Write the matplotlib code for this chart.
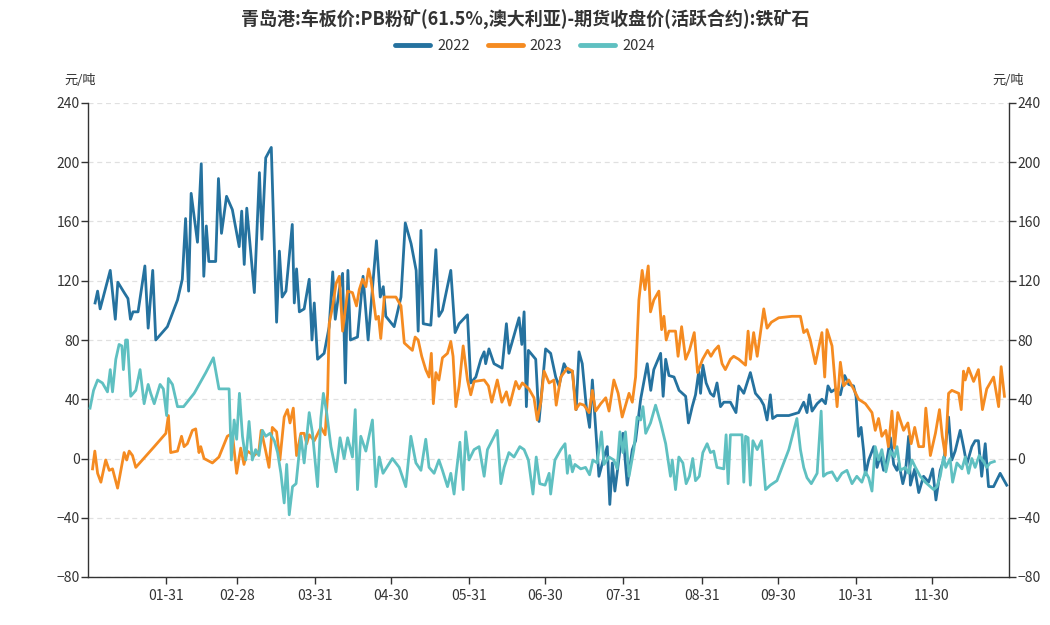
import numpy as np
import matplotlib
matplotlib.use("Agg")
import matplotlib.pyplot as plt
from matplotlib.lines import Line2D

plt.rcParams['font.family'] = ['Noto Sans CJK SC', 'DejaVu Sans']

# day of year (0 = Jan 1) and spread value, yuan/ton
days_2022 = [2, 3, 4, 8, 10, 11, 13.5, 15, 16, 17, 19, 21.7, 23, 24.8, 26, 30.6, 34.6, 36.5, 37.8, 39,
             40, 42.5, 44, 45, 46, 47, 49.7, 50.8, 52, 54, 56.3, 59, 60, 61, 62, 65, 67, 68, 69.5, 71.7,
             73.8, 74.9, 76, 77.5, 80, 80.8, 81.7, 82.8, 84.7, 86.7, 87.8, 88.7, 90, 92.6, 94.6, 96, 97,
             98.6, 99.9, 101, 102, 103, 105.8, 108, 110, 113.3, 114.8, 116, 117, 120.3, 123, 124.7, 127,
             129, 129.8, 130.9, 131.8, 134.8, 136.8, 138, 139.4, 142.7, 144.4, 146, 149.3, 150.6, 152.6,
             154.6, 155.9, 156.5, 157.8, 159.8, 163, 164.7, 165.7, 169.7, 170.8, 171.7, 172.6, 173.4,
             176.3, 177.6, 180.2, 182.2, 184.2, 185.5, 187.5, 189.2, 190.8, 192.3, 193.4, 194.7, 196.3,
             197.6, 198.7, 200, 201.3, 203.3, 204.6, 205.6, 206.6, 207.6, 209.5, 210.8, 212.5, 214.5,
             215.8, 217.8, 220.4, 221.8, 223, 225.7, 226.7, 227.7, 229, 231, 233, 235.6, 236.7, 238.2,
             239.5, 240.8, 241.5, 242.4, 243.7, 245.4, 246.7, 248, 249.4, 250.7, 253.3, 255.5, 256.6,
             258.6, 261.2, 263.2, 265.2, 266.5, 267.8, 269.1, 270, 271.7, 276.4, 280.3, 282.3, 283.6,
             284.5, 285.6, 287.6, 289.5, 290.9, 291.9, 293.2, 295, 296.8, 298.5, 300.1, 302, 303, 304,
             305, 306, 306.7, 308, 310, 311.3, 312.6, 313.9, 315.2, 316.6, 317.9, 319.2, 319.9, 321.5,
             322.5, 323.8, 324.5, 326.2, 327.8, 329.7, 331.7, 333.3, 334.6, 336.3, 337.9, 339.6, 340.9,
             342.2, 344.2, 345.5, 346.8, 348.8, 350.1, 351.4, 352.7, 354.1, 355.4, 357.4, 360, 362.6]
vals_2022 = [105, 113, 101, 127, 94, 119, 112, 108, 94, 99, 99, 130, 88, 127, 80, 89, 107, 121, 162, 113,
             179, 146, 199, 123, 157, 133, 133, 189, 152, 177, 168, 143, 167, 131, 169, 112, 193, 148, 203, 210,
             92, 140, 109, 113, 158, 105, 128, 99, 101, 121, 80, 105, 67, 71, 89, 126, 94,
             114, 125, 51, 127, 80, 82, 123, 80, 147, 109, 116, 96, 89, 109, 159, 145,
             127, 86, 154, 91, 90, 141, 96, 100, 127, 85, 91, 97, 51, 55,
             67, 72, 64, 74, 64, 61, 91, 71, 95, 77, 99, 35, 73,
             67, 25, 74, 71, 55, 49, 64, 58, 59, 33, 72, 64, 35,
             21, 53, 21, -12, 1, 8, -31, -3, -22, 4, 17, -18, 6,
             12, 40, 64, 46, 60, 71, 42, 67, 56, 55, 46, 42, 24, 35,
             43, 59, 44, 63, 51, 44, 42, 51, 35, 38, 38, 31, 49,
             44, 58, 44, 40, 36, 26, 43, 27, 29, 29, 31, 38, 31,
             43, 32, 37, 40, 37, 49, 45, 47, 43, 56, 50, 49, 42, 15,
             21, 5, -11, -1, 8, -6, 2, -8, -1, 14, -4, -8, -3, -17,
             -10, 15, -18, -7, -23, -12, -16, -7, -28, -8, 0, 28, -1,
             5, 19, 8, -4, 8, 12, 12, -12, 10, -19, -19, -10, -18]

days_2023 = [1, 1.9, 3, 4.3, 6.2, 7.6, 8.9, 10.9, 13.5, 14.5, 15.5, 16.8, 18.1, 25.4, 30, 31, 31.9, 34.6,
             36.2, 37.2, 38.5, 40.5, 41.8, 43.1, 43.8, 45.1, 48.4, 51, 54.3, 56.3, 58, 59.6, 60.9, 62.2,
             64.9, 66.8, 67.7, 69.5, 70.8, 72.1, 73.8, 75.1, 76.8, 78.1, 79.1, 80.4, 81.7, 83.4, 84.7,
             85.7, 86.7, 88.7, 91.3, 93, 94, 94.6, 96, 97.3, 98.6, 99.9, 101.9, 103.8, 105.4, 106.5,
             107.8, 109.1, 110.2, 111.1, 113.1, 114.1, 115, 116.4, 121, 123, 124.3, 125.6, 127.5, 128.6,
             129.8, 131.2, 132.8, 134.1, 135, 135.8, 136.8, 138, 139.4, 141.4, 142.7, 143.6, 144.7, 146,
             147.6, 149.3, 150.6, 151.9, 155.9, 157.6, 158.9, 161.1, 162.9, 164.7, 166, 168.4, 169.7,
             171, 173.6, 175.6, 176.9, 178.3, 179.6, 181.6, 183.5, 184.4, 186.2, 188.8, 190.8, 192.1,
             193.7, 195.4, 197.4, 198.7, 200, 202, 204, 205.3, 207.2, 208.9, 210.5, 213.2, 214.5, 215.8,
             217.1, 218.4, 219.5, 220.8, 221.7, 223, 225, 226.1, 227, 227.9, 229, 231.6, 232.6, 234,
             235.6, 237.1, 239, 240.3, 242.3, 244.3, 245.6, 247, 248.6, 250, 251.3, 253.3, 254.6, 256.6,
             259.3, 260.3, 261.2, 262.5, 263.9, 265.2, 266.5, 267.8, 269.5, 272.4, 277.7, 281, 282.3,
             283.6, 284.9, 286.9, 289.5, 290.6, 291.5, 293.5, 295.5, 296.8, 298.1, 300.1, 302, 304,
             306.7, 309.3, 310.6, 311.9, 313.2, 314.8, 315.8, 317.2, 318.2, 319.5, 321.8, 323.5, 324.8,
             326.2, 327.8, 329.7, 330.6, 332.4, 334.4, 336, 337.1, 338.3, 339.6, 340.9, 343.6, 344.6,
             345.5, 346.2, 347.5, 349.5, 351.4, 353, 354.7, 357.4, 359.4, 360.4, 361.7]
vals_2023 = [-7, 5, -10, -16, -1, -8, -7, -20, 4, -1, 5, 2, -6, 8, 17, 29, 4, 5,
             15, 8, 10, 19, 20, 4, 8, 0, -3, 1, 15, 17, -10, 7, -4, 5,
             2, 5, 19, 5, -6, 21, 18, -1, 28, 33, 24, 34, 2, 17, 17,
             10, 16, 12, 21, 16, 44, 91, 103, 118, 123, 86, 113, 112, 103, 114,
             121, 116, 128, 121, 94, 96, 81, 109, 109, 103, 78, 76, 73, 82,
             80, 69, 60, 55, 71, 37, 58, 53, 68, 71, 79, 69, 35, 49,
             76, 53, 43, 52, 53, 49, 38, 53, 38, 45, 36, 52, 47,
             51, 47, 41, 26, 38, 59, 51, 53, 36, 55, 61, 59, 33,
             37, 36, 31, 46, 32, 37, 41, 32, 53, 44, 28, 44, 38, 55,
             107, 127, 114, 130, 99, 107, 113, 87, 96, 80, 86, 86, 69, 89,
             67, 73, 85, 58, 67, 73, 69, 73, 76, 64, 60, 67, 69, 67,
             63, 86, 67, 85, 69, 85, 101, 88, 92, 95, 96, 96, 85,
             87, 80, 64, 85, 55, 87, 76, 35, 65, 49, 53, 47, 40,
             37, 31, 19, 27, 15, 19, 8, 32, 7, 31, 19, 24, 10,
             21, 8, 8, 34, 2, 17, 33, 15, 2, 44, 46, 44, 33,
             59, 53, 61, 52, 60, 33, 47, 55, 35, 62, 42]

days_2024 = [0, 1.4, 3, 4.9, 6.9, 8, 8.9, 10.2, 11.5, 12.6, 13.2, 14.1, 14.8, 16.1, 18.1, 19.8, 21.4, 23,
             24, 25.4, 27.7, 29, 30.3, 31, 32.6, 34.6, 37, 41.2, 45.8, 48.8, 51, 55, 55.9, 57, 58, 59.1,
             60.3, 61.6, 62.9, 64.2, 65.5, 66.8, 68.2, 69.5, 71.2, 72.9, 74.2, 75.5, 76.8, 77.8, 78.8,
             80.1, 81.5, 83.4, 84.7, 86.7, 88, 90, 91.3, 92.3, 93.6, 95.3, 97.3, 98.9, 100.5, 101.9,
             103.8, 104.9, 105.8, 107.1, 109.1, 111.7, 113.1, 114.4, 115.9, 119.6, 122.3, 124.9, 126.9,
             128.9, 130.9, 132.8, 134.1, 136.1, 138, 139.4, 141.4, 142.7, 144, 144.7, 146.3, 147.6,
             148.6, 149.9, 151.9, 153.9, 155.9, 157.2, 161.1, 162.5, 163.8, 165.7, 167.7, 170, 171.7,
             173.4, 175.2, 176.5, 177.9, 180, 181.6, 182.2, 183.9, 186.2, 187.9, 188.8, 189.7, 190.8,
             191.8, 194.1, 196, 197.6, 198.9, 200.6, 202.3, 203.3, 205.3, 207.2, 208.5, 209.6, 210.8,
             211.8, 213.2, 215.1, 216.4, 217.8, 218.7, 219.8, 221.7, 223.7, 225.7, 227.7, 229.6, 230.3,
             231.6, 232.9, 234.5, 235.8, 237.1, 238.4, 239.5, 241, 242.4, 244.1, 245.4, 246.7, 248,
             250.7, 251.6, 252.4, 253.3, 257.9, 258.6, 259.3, 260.3, 261.2, 262.2, 263.9, 265.6, 266.5,
             267.2, 269.1, 271.7, 276.4, 279.6, 281, 282.3, 283.6, 285.3, 287.6, 289.2, 290.1, 291.5,
             293.5, 295.5, 297.4, 299.4, 301.4, 303.3, 305.3, 306.7, 308, 309.3, 310.6, 311.9, 313.2,
             314.8, 316.6, 318.2, 319.2, 320.5, 322.5, 323.8, 325.1, 326.5, 328.4, 330.4, 332.4, 333.7,
             335, 336.3, 337.6, 338.5, 340.2, 341.2, 342.9, 344.9, 346.2, 347.5, 348.8, 350.1, 351.7,
             353.4, 354.7, 356, 357.7]
vals_2024 = [34, 46, 53, 51, 45, 60, 45, 67, 77, 76, 60, 80, 80, 42, 46, 60, 37, 50,
             44, 37, 50, 47, 29, 54, 50, 35, 35, 44, 58, 68, 47, 47, -1, 26, 13, 44,
             15, -1, 25, -1, 6, 2, 19, 15, 17, 12, 4, -10, -30, -4, -38,
             -19, -17, 15, -3, 31, 17, -19, 27, 44, 31, 8, -9, 14, 0, 14,
             1, 33, -21, 15, 5, 26, -19, 1, -10, 0, -6, -19, 15,
             -3, -8, 13, -6, -10, -1, -8, -19, -10, -24, -12, 11, -21,
             18, -1, 6, 8, -12, 6, 19, -17, -6, 4, 1, 8, 6,
             -1, -24, 1, -17, -18, -10, -24, -1, 6, 10, -10, 2, -9,
             -4, -7, -6, -11, -1, -3, 18, -4, 1, -1, -7, 18, 4,
             18, -12, 6, 28, 26, 35, 17, 24, 36, 24, 10, -12, -1,
             -21, 1, -3, -17, -12, 0, -15, -12, 4, 10, 4, 5, -6,
             -7, 16, -17, 16, 16, -16, 15, 14, -18, 12, 6, 12, -7,
             -21, -18, -15, 6, 27, 6, -6, -13, -17, -10, 32, -12, -10,
             -9, -15, -10, -8, -17, -12, -16, -9, -13, -22, 8, -1, 6,
             -9, 5, 1, 8, -8, -6, -10, -1, -6, -12, -16, -19, -21,
             -19, -12, 1, -6, 0, -16, -3, -7, 1, -10, 0, -6, 2,
             -2, -6, -3, -2]

tick_days = [30, 58, 89, 119, 150, 180, 211, 242, 272, 303, 333]
tick_labels = ['01-31', '02-28', '03-31', '04-30', '05-31', '06-30',
               '07-31', '08-31', '09-30', '10-31', '11-30']
y_ticks = [-80, -40, 0, 40, 80, 120, 160, 200, 240]

series = [('2022', days_2022, vals_2022, '#25729f'),
          ('2023', days_2023, vals_2023, '#f58b21'),
          ('2024', days_2024, vals_2024, '#5fc0c1')]

fig = plt.figure(figsize=(10.5, 6.25), dpi=100)
ax = fig.add_axes([88 / 1050, 48 / 625, 921 / 1050, 474 / 625])

for i, (name, d, v, c) in enumerate(series):
    ax.plot(d, v, color=c, lw=2.0, solid_joinstyle='round', zorder=3 + i)

ax.set_xlim(-0.8, 363.5)
ax.set_ylim(-80, 240)
ax.set_yticks(y_ticks)
ax.set_xticks(tick_days)
ax.set_xticklabels(tick_labels)
ax.grid(axis='y', color='#e0e0e0', ls=(0, (4, 3)), lw=0.9)
ax.set_axisbelow(True)

ax.spines['top'].set_visible(False)
for s in ['left', 'right', 'bottom']:
    ax.spines[s].set_color('#333333')
    ax.spines[s].set_linewidth(1.0)

ax.tick_params(axis='y', which='both', left=True, right=True, labelleft=True, labelright=True,
               length=5, width=1, color='#333333', labelcolor='#333333', labelsize=10, pad=1)
ax.tick_params(axis='x', length=5, width=1, color='#333333', labelcolor='#333333',
               labelsize=10, pad=4)

fig.text(80 / 1050, 1 - 80 / 625, '元/吨', ha='center', va='center', fontsize=9.5, color='#333333')
fig.text(1008 / 1050, 1 - 80 / 625, '元/吨', ha='center', va='center', fontsize=9.5, color='#333333')

fig.text(0.5, 1 - 20 / 625, '青岛港:车板价:PB粉矿(61.5%,澳大利亚)-期货收盘价(活跃合约):铁矿石',
         ha='center', va='center', fontsize=13, fontweight='bold', color='#333333')

handles = [Line2D([0], [0], color=c, lw=3.5, solid_capstyle='round') for _, _, _, c in series]
fig.legend(handles, [s[0] for s in series], loc='center', bbox_to_anchor=(0.5, 1 - 46 / 625),
           ncol=3, frameon=False, fontsize=10.5, handlelength=2.4, columnspacing=1.2,
           handletextpad=0.5, labelcolor='#333333')

fig.savefig('out.png', dpi=100)
